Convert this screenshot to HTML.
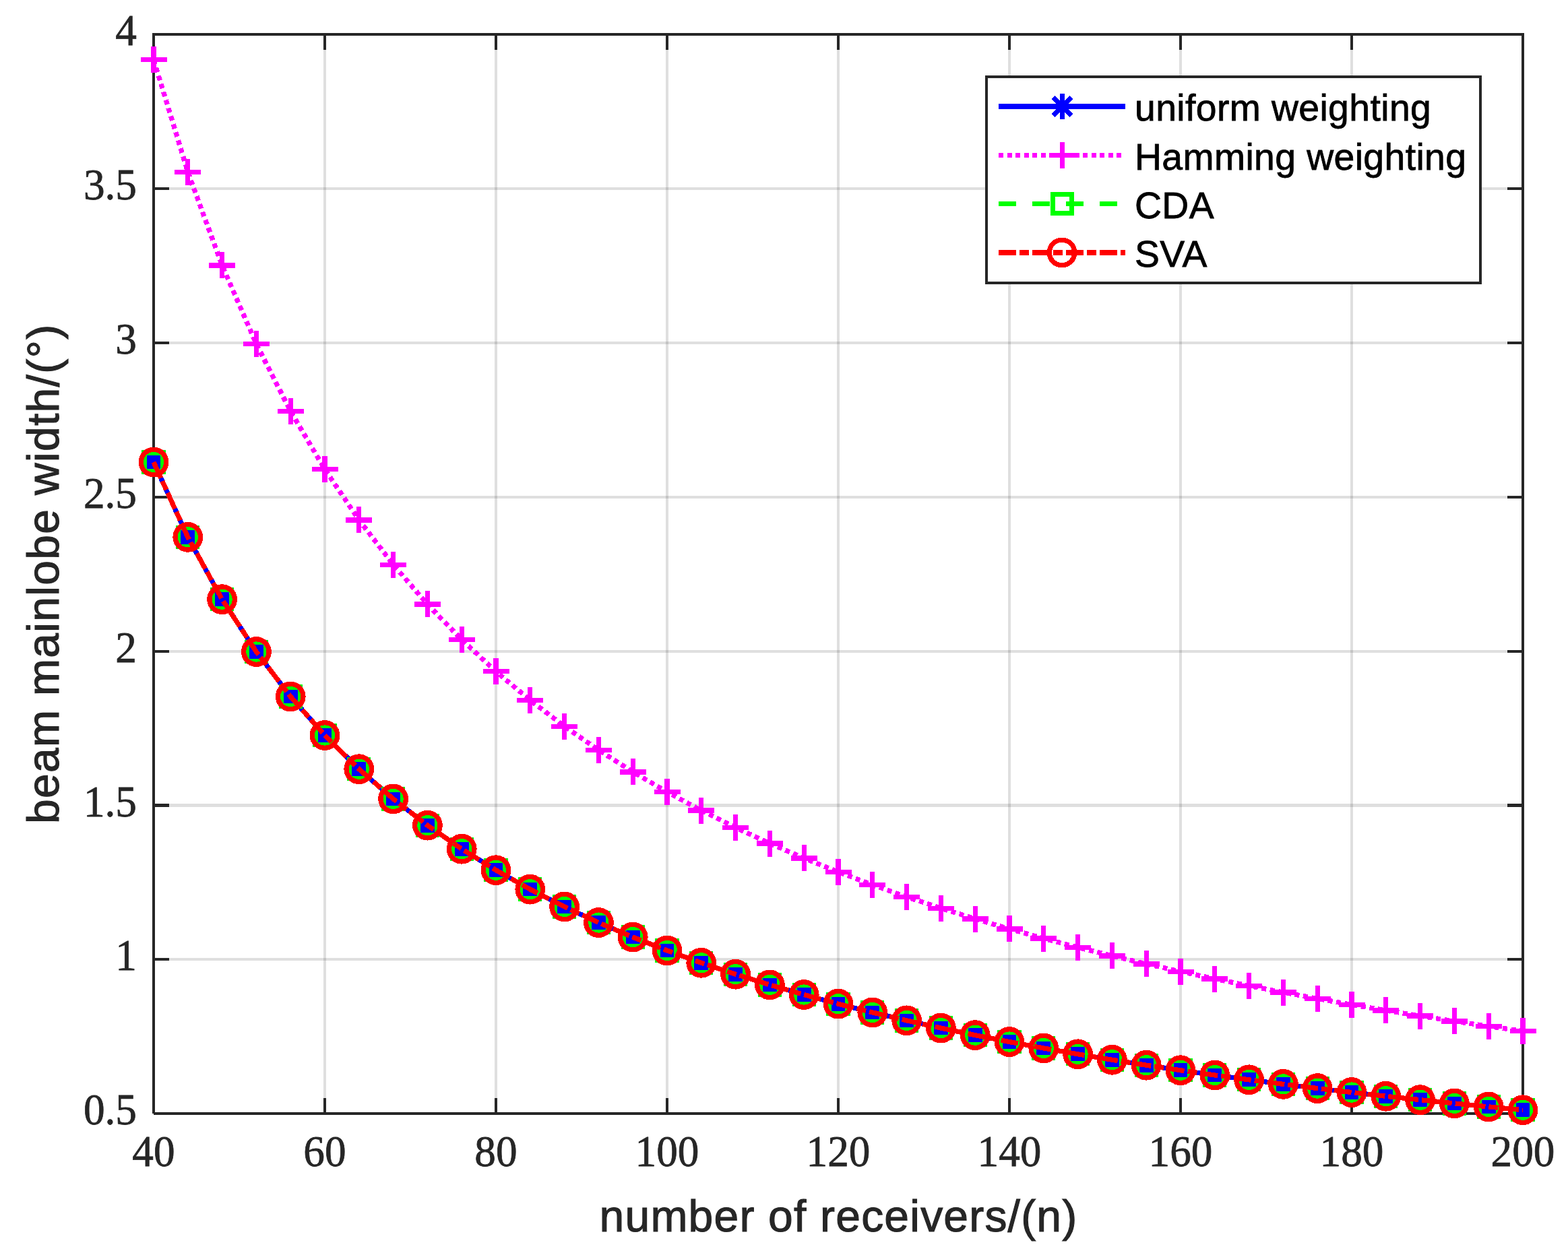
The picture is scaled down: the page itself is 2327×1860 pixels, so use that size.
<!DOCTYPE html>
<html lang="en"><head><meta charset="utf-8"><title>beam mainlobe width vs number of receivers</title>
<style>
html,body{margin:0;padding:0;background:#fff;}
body{width:2327px;height:1860px;overflow:hidden;}
svg{display:block;}
.tk{font-family:"Liberation Serif","DejaVu Serif",serif;font-size:66.4px;fill:#262626;stroke:#262626;stroke-width:0.8px;}
.lb{font-family:"Liberation Sans","DejaVu Sans",sans-serif;font-size:66px;fill:#262626;stroke:#262626;stroke-width:1.1px;letter-spacing:1.2px;}
.lg{font-family:"Liberation Sans","DejaVu Sans",sans-serif;font-size:55.3px;fill:#000;stroke:#000;stroke-width:0.8px;letter-spacing:0.4px;}
.cr{shape-rendering:crispEdges;}
</style></head><body>
<svg width="2327" height="1860" viewBox="0 0 2327 1860">
<rect x="0" y="0" width="2327" height="1860" fill="#ffffff"/>
<g class="cr" stroke="#262626" stroke-opacity="0.15" stroke-width="4.17" fill="none">
<line x1="228" y1="51.1" x2="228" y2="1653.26"/>
<line x1="482" y1="51.1" x2="482" y2="1653.26"/>
<line x1="736" y1="51.1" x2="736" y2="1653.26"/>
<line x1="990" y1="51.1" x2="990" y2="1653.26"/>
<line x1="1244" y1="51.1" x2="1244" y2="1653.26"/>
<line x1="1498" y1="51.1" x2="1498" y2="1653.26"/>
<line x1="1752" y1="51.1" x2="1752" y2="1653.26"/>
<line x1="2006" y1="51.1" x2="2006" y2="1653.26"/>
<line x1="2260" y1="51.1" x2="2260" y2="1653.26"/>
<line x1="228" y1="1653.26" x2="2260" y2="1653.26"/>
<line x1="228" y1="1424.38" x2="2260" y2="1424.38"/>
<line x1="228" y1="1195.5" x2="2260" y2="1195.5"/>
<line x1="228" y1="966.62" x2="2260" y2="966.62"/>
<line x1="228" y1="737.74" x2="2260" y2="737.74"/>
<line x1="228" y1="508.86" x2="2260" y2="508.86"/>
<line x1="228" y1="279.98" x2="2260" y2="279.98"/>
<line x1="228" y1="51.1" x2="2260" y2="51.1"/>
</g>
<g class="cr" stroke="#262626" stroke-width="4.17" fill="none" stroke-linecap="butt" stroke-linejoin="miter">
<path d="M228 1653.26V51.1H2260V1653.26H228"/>
<line x1="482" y1="1653.26" x2="482" y2="1630.26"/>
<line x1="482" y1="51.1" x2="482" y2="74.1"/>
<line x1="736" y1="1653.26" x2="736" y2="1630.26"/>
<line x1="736" y1="51.1" x2="736" y2="74.1"/>
<line x1="990" y1="1653.26" x2="990" y2="1630.26"/>
<line x1="990" y1="51.1" x2="990" y2="74.1"/>
<line x1="1244" y1="1653.26" x2="1244" y2="1630.26"/>
<line x1="1244" y1="51.1" x2="1244" y2="74.1"/>
<line x1="1498" y1="1653.26" x2="1498" y2="1630.26"/>
<line x1="1498" y1="51.1" x2="1498" y2="74.1"/>
<line x1="1752" y1="1653.26" x2="1752" y2="1630.26"/>
<line x1="1752" y1="51.1" x2="1752" y2="74.1"/>
<line x1="2006" y1="1653.26" x2="2006" y2="1630.26"/>
<line x1="2006" y1="51.1" x2="2006" y2="74.1"/>
<line x1="228" y1="1424.38" x2="251" y2="1424.38"/>
<line x1="2260" y1="1424.38" x2="2237" y2="1424.38"/>
<line x1="228" y1="1195.5" x2="251" y2="1195.5"/>
<line x1="2260" y1="1195.5" x2="2237" y2="1195.5"/>
<line x1="228" y1="966.62" x2="251" y2="966.62"/>
<line x1="2260" y1="966.62" x2="2237" y2="966.62"/>
<line x1="228" y1="737.74" x2="251" y2="737.74"/>
<line x1="2260" y1="737.74" x2="2237" y2="737.74"/>
<line x1="228" y1="508.86" x2="251" y2="508.86"/>
<line x1="2260" y1="508.86" x2="2237" y2="508.86"/>
<line x1="228" y1="279.98" x2="251" y2="279.98"/>
<line x1="2260" y1="279.98" x2="2237" y2="279.98"/>
</g>
<g class="tk" text-anchor="middle">
<text transform="translate(228 1731.3) scale(0.953 1)">40</text>
<text transform="translate(482 1731.3) scale(0.953 1)">60</text>
<text transform="translate(736 1731.3) scale(0.953 1)">80</text>
<text transform="translate(990 1731.3) scale(0.953 1)">100</text>
<text transform="translate(1244 1731.3) scale(0.953 1)">120</text>
<text transform="translate(1498 1731.3) scale(0.953 1)">140</text>
<text transform="translate(1752 1731.3) scale(0.953 1)">160</text>
<text transform="translate(2006 1731.3) scale(0.953 1)">180</text>
<text transform="translate(2260 1731.3) scale(0.953 1)">200</text>
</g>
<g class="tk" text-anchor="end">
<text transform="translate(203 1669.26) scale(0.953 1)">0.5</text>
<text transform="translate(203 1440.38) scale(0.953 1)">1</text>
<text transform="translate(203 1211.5) scale(0.953 1)">1.5</text>
<text transform="translate(203 982.62) scale(0.953 1)">2</text>
<text transform="translate(203 753.74) scale(0.953 1)">2.5</text>
<text transform="translate(203 524.86) scale(0.953 1)">3</text>
<text transform="translate(203 295.98) scale(0.953 1)">3.5</text>
<text transform="translate(203 67.1) scale(0.953 1)">4</text>
</g>
<text class="lb" text-anchor="middle" x="1244.5" y="1827.7">number of receivers/(n)</text>
<text class="lb" style="letter-spacing:1.31px" text-anchor="middle" transform="translate(87 851.7) rotate(-90)">beam mainlobe width/(°)</text>
<g class="cr" fill="none" stroke-width="7.3" stroke-linejoin="round">
<g stroke="#0000ff">
<polyline points="228,686.1 278.8,797.36 329.6,889.68 380.4,967.52 431.2,1034.04 482,1091.53 532.8,1141.73 583.6,1185.93 634.4,1225.16 685.2,1260.2 736,1291.69 786.8,1320.14 837.6,1345.98 888.4,1369.55 939.2,1391.13 990,1410.97 1040.8,1429.27 1091.6,1446.2 1142.4,1461.91 1193.2,1476.52 1244,1490.16 1294.8,1502.91 1345.6,1514.85 1396.4,1526.07 1447.2,1536.62 1498,1546.56 1548.8,1555.95 1599.6,1564.82 1650.4,1573.23 1701.2,1581.2 1752,1588.77 1802.8,1595.97 1853.6,1602.82 1904.4,1609.36 1955.2,1615.59 2006,1621.55 2056.8,1627.25 2107.6,1632.7 2158.4,1637.92 2209.2,1642.93 2260,1647.74"/>
<path d="M208.8 686.1H247.2M228 666.9V705.3M214.42 672.52L241.58 699.67M214.42 699.67L241.58 672.52M259.6 797.36H298M278.8 778.16V816.56M265.22 783.78L292.38 810.93M265.22 810.93L292.38 783.78M310.4 889.68H348.8M329.6 870.48V908.88M316.02 876.1L343.18 903.25M316.02 903.25L343.18 876.1M361.2 967.52H399.6M380.4 948.32V986.72M366.82 953.94L393.98 981.09M366.82 981.09L393.98 953.94M412 1034.04H450.4M431.2 1014.84V1053.24M417.62 1020.46L444.78 1047.61M417.62 1047.61L444.78 1020.46M462.8 1091.53H501.2M482 1072.33V1110.73M468.42 1077.96L495.58 1105.11M468.42 1105.11L495.58 1077.96M513.6 1141.73H552M532.8 1122.53V1160.93M519.22 1128.15L546.38 1155.31M519.22 1155.31L546.38 1128.15M564.4 1185.93H602.8M583.6 1166.73V1205.13M570.02 1172.36L597.18 1199.51M570.02 1199.51L597.18 1172.36M615.2 1225.16H653.6M634.4 1205.96V1244.36M620.82 1211.58L647.98 1238.73M620.82 1238.73L647.98 1211.58M666 1260.2H704.4M685.2 1241V1279.4M671.62 1246.62L698.78 1273.77M671.62 1273.77L698.78 1246.62M716.8 1291.69H755.2M736 1272.49V1310.89M722.42 1278.11L749.58 1305.26M722.42 1305.26L749.58 1278.11M767.6 1320.14H806M786.8 1300.94V1339.34M773.22 1306.57L800.38 1333.72M773.22 1333.72L800.38 1306.57M818.4 1345.98H856.8M837.6 1326.78V1365.18M824.02 1332.41L851.18 1359.56M824.02 1359.56L851.18 1332.41M869.2 1369.55H907.6M888.4 1350.35V1388.75M874.82 1355.97L901.98 1383.13M874.82 1383.13L901.98 1355.97M920 1391.13H958.4M939.2 1371.93V1410.33M925.62 1377.56L952.78 1404.71M925.62 1404.71L952.78 1377.56M970.8 1410.97H1009.2M990 1391.77V1430.17M976.42 1397.39L1003.58 1424.55M976.42 1424.55L1003.58 1397.39M1021.6 1429.27H1060M1040.8 1410.07V1448.47M1027.22 1415.69L1054.38 1442.85M1027.22 1442.85L1054.38 1415.69M1072.4 1446.2H1110.8M1091.6 1427V1465.4M1078.02 1432.62L1105.18 1459.77M1078.02 1459.77L1105.18 1432.62M1123.2 1461.91H1161.6M1142.4 1442.71V1481.11M1128.82 1448.33L1155.98 1475.48M1128.82 1475.48L1155.98 1448.33M1174 1476.52H1212.4M1193.2 1457.32V1495.72M1179.62 1462.95L1206.78 1490.1M1179.62 1490.1L1206.78 1462.95M1224.8 1490.16H1263.2M1244 1470.96V1509.36M1230.42 1476.58L1257.58 1503.74M1230.42 1503.74L1257.58 1476.58M1275.6 1502.91H1314M1294.8 1483.71V1522.11M1281.22 1489.33L1308.38 1516.48M1281.22 1516.48L1308.38 1489.33M1326.4 1514.85H1364.8M1345.6 1495.65V1534.05M1332.02 1501.27L1359.18 1528.43M1332.02 1528.43L1359.18 1501.27M1377.2 1526.07H1415.6M1396.4 1506.87V1545.27M1382.82 1512.49L1409.98 1539.64M1382.82 1539.64L1409.98 1512.49M1428 1536.62H1466.4M1447.2 1517.42V1555.82M1433.62 1523.04L1460.78 1550.19M1433.62 1550.19L1460.78 1523.04M1478.8 1546.56H1517.2M1498 1527.36V1565.76M1484.42 1532.98L1511.58 1560.14M1484.42 1560.14L1511.58 1532.98M1529.6 1555.95H1568M1548.8 1536.75V1575.15M1535.22 1542.37L1562.38 1569.52M1535.22 1569.52L1562.38 1542.37M1580.4 1564.82H1618.8M1599.6 1545.62V1584.02M1586.02 1551.25L1613.18 1578.4M1586.02 1578.4L1613.18 1551.25M1631.2 1573.23H1669.6M1650.4 1554.03V1592.43M1636.82 1559.65L1663.98 1586.8M1636.82 1586.8L1663.98 1559.65M1682 1581.2H1720.4M1701.2 1562V1600.4M1687.62 1567.62L1714.78 1594.78M1687.62 1594.78L1714.78 1567.62M1732.8 1588.77H1771.2M1752 1569.57V1607.97M1738.42 1575.19L1765.58 1602.35M1738.42 1602.35L1765.58 1575.19M1783.6 1595.97H1822M1802.8 1576.77V1615.17M1789.22 1582.39L1816.38 1609.55M1789.22 1609.55L1816.38 1582.39M1834.4 1602.82H1872.8M1853.6 1583.62V1622.02M1840.02 1589.25L1867.18 1616.4M1840.02 1616.4L1867.18 1589.25M1885.2 1609.36H1923.6M1904.4 1590.16V1628.56M1890.82 1595.78L1917.98 1622.93M1890.82 1622.93L1917.98 1595.78M1936 1615.59H1974.4M1955.2 1596.39V1634.79M1941.62 1602.02L1968.78 1629.17M1941.62 1629.17L1968.78 1602.02M1986.8 1621.55H2025.2M2006 1602.35V1640.75M1992.42 1607.97L2019.58 1635.13M1992.42 1635.13L2019.58 1607.97M2037.6 1627.25H2076M2056.8 1608.05V1646.45M2043.22 1613.67L2070.38 1640.82M2043.22 1640.82L2070.38 1613.67M2088.4 1632.7H2126.8M2107.6 1613.5V1651.9M2094.02 1619.12L2121.18 1646.27M2094.02 1646.27L2121.18 1619.12M2139.2 1637.92H2177.6M2158.4 1618.72V1657.12M2144.82 1624.34L2171.98 1651.5M2144.82 1651.5L2171.98 1624.34M2190 1642.93H2228.4M2209.2 1623.73V1662.13M2195.62 1629.35L2222.78 1656.51M2195.62 1656.51L2222.78 1629.35M2240.8 1647.74H2279.2M2260 1628.54V1666.94M2246.42 1634.16L2273.58 1661.32M2246.42 1661.32L2273.58 1634.16"/>
<path fill="#0000ff" stroke="none" d="M217.5 675.6h21v21h-21zM268.3 786.86h21v21h-21zM319.1 879.18h21v21h-21zM369.9 957.02h21v21h-21zM420.7 1023.54h21v21h-21zM471.5 1081.03h21v21h-21zM522.3 1131.23h21v21h-21zM573.1 1175.43h21v21h-21zM623.9 1214.66h21v21h-21zM674.7 1249.7h21v21h-21zM725.5 1281.19h21v21h-21zM776.3 1309.64h21v21h-21zM827.1 1335.48h21v21h-21zM877.9 1359.05h21v21h-21zM928.7 1380.63h21v21h-21zM979.5 1400.47h21v21h-21zM1030.3 1418.77h21v21h-21zM1081.1 1435.7h21v21h-21zM1131.9 1451.41h21v21h-21zM1182.7 1466.02h21v21h-21zM1233.5 1479.66h21v21h-21zM1284.3 1492.41h21v21h-21zM1335.1 1504.35h21v21h-21zM1385.9 1515.57h21v21h-21zM1436.7 1526.12h21v21h-21zM1487.5 1536.06h21v21h-21zM1538.3 1545.45h21v21h-21zM1589.1 1554.32h21v21h-21zM1639.9 1562.73h21v21h-21zM1690.7 1570.7h21v21h-21zM1741.5 1578.27h21v21h-21zM1792.3 1585.47h21v21h-21zM1843.1 1592.32h21v21h-21zM1893.9 1598.86h21v21h-21zM1944.7 1605.09h21v21h-21zM1995.5 1611.05h21v21h-21zM2046.3 1616.75h21v21h-21zM2097.1 1622.2h21v21h-21zM2147.9 1627.42h21v21h-21zM2198.7 1632.43h21v21h-21zM2249.5 1637.24h21v21h-21z"/>
</g>
<g stroke="#ff00ff">
<polyline stroke-dasharray="7 5.5" points="228,88.66 278.8,255.5 329.6,393.93 380.4,510.66 431.2,610.4 482,696.62 532.8,771.89 583.6,838.17 634.4,896.99 685.2,949.53 736,996.75 786.8,1039.42 837.6,1078.17 888.4,1113.51 939.2,1145.87 990,1175.62 1040.8,1203.06 1091.6,1228.44 1142.4,1252 1193.2,1273.92 1244,1294.36 1294.8,1313.48 1345.6,1331.39 1396.4,1348.2 1447.2,1364.02 1498,1378.93 1548.8,1393.01 1599.6,1406.32 1650.4,1418.92 1701.2,1430.88 1752,1442.23 1802.8,1453.03 1853.6,1463.3 1904.4,1473.1 1955.2,1482.45 2006,1491.38 2056.8,1499.92 2107.6,1508.1 2158.4,1515.93 2209.2,1523.44 2260,1530.65"/>
<path d="M208.5 88.66H247.5M228 69.16V108.16M259.3 255.5H298.3M278.8 236V275M310.1 393.93H349.1M329.6 374.43V413.43M360.9 510.66H399.9M380.4 491.16V530.16M411.7 610.4H450.7M431.2 590.9V629.9M462.5 696.62H501.5M482 677.12V716.12M513.3 771.89H552.3M532.8 752.39V791.39M564.1 838.17H603.1M583.6 818.67V857.67M614.9 896.99H653.9M634.4 877.49V916.49M665.7 949.53H704.7M685.2 930.03V969.03M716.5 996.75H755.5M736 977.25V1016.25M767.3 1039.42H806.3M786.8 1019.92V1058.92M818.1 1078.17H857.1M837.6 1058.67V1097.67M868.9 1113.51H907.9M888.4 1094.01V1133.01M919.7 1145.87H958.7M939.2 1126.37V1165.37M970.5 1175.62H1009.5M990 1156.12V1195.12M1021.3 1203.06H1060.3M1040.8 1183.56V1222.56M1072.1 1228.44H1111.1M1091.6 1208.94V1247.94M1122.9 1252H1161.9M1142.4 1232.5V1271.5M1173.7 1273.92H1212.7M1193.2 1254.42V1293.42M1224.5 1294.36H1263.5M1244 1274.86V1313.86M1275.3 1313.48H1314.3M1294.8 1293.98V1332.98M1326.1 1331.39H1365.1M1345.6 1311.89V1350.89M1376.9 1348.2H1415.9M1396.4 1328.7V1367.7M1427.7 1364.02H1466.7M1447.2 1344.52V1383.52M1478.5 1378.93H1517.5M1498 1359.43V1398.43M1529.3 1393.01H1568.3M1548.8 1373.51V1412.51M1580.1 1406.32H1619.1M1599.6 1386.82V1425.82M1630.9 1418.92H1669.9M1650.4 1399.42V1438.42M1681.7 1430.88H1720.7M1701.2 1411.38V1450.38M1732.5 1442.23H1771.5M1752 1422.73V1461.73M1783.3 1453.03H1822.3M1802.8 1433.53V1472.53M1834.1 1463.3H1873.1M1853.6 1443.8V1482.8M1884.9 1473.1H1923.9M1904.4 1453.6V1492.6M1935.7 1482.45H1974.7M1955.2 1462.95V1501.95M1986.5 1491.38H2025.5M2006 1471.88V1510.88M2037.3 1499.92H2076.3M2056.8 1480.42V1519.42M2088.1 1508.1H2127.1M2107.6 1488.6V1527.6M2138.9 1515.93H2177.9M2158.4 1496.43V1535.43M2189.7 1523.44H2228.7M2209.2 1503.94V1542.94M2240.5 1530.65H2279.5M2260 1511.15V1550.15"/>
</g>
<g stroke="#00ff00">
<polyline stroke-dasharray="26 24" points="228,686.1 278.8,797.36 329.6,889.68 380.4,967.52 431.2,1034.04 482,1091.53 532.8,1141.73 583.6,1185.93 634.4,1225.16 685.2,1260.2 736,1291.69 786.8,1320.14 837.6,1345.98 888.4,1369.55 939.2,1391.13 990,1410.97 1040.8,1429.27 1091.6,1446.2 1142.4,1461.91 1193.2,1476.52 1244,1490.16 1294.8,1502.91 1345.6,1514.85 1396.4,1526.07 1447.2,1536.62 1498,1546.56 1548.8,1555.95 1599.6,1564.82 1650.4,1573.23 1701.2,1581.2 1752,1588.77 1802.8,1595.97 1853.6,1602.82 1904.4,1609.36 1955.2,1615.59 2006,1621.55 2056.8,1627.25 2107.6,1632.7 2158.4,1637.92 2209.2,1642.93 2260,1647.74"/>
<path stroke-linejoin="miter" d="M214 672.1h28v28h-28zM264.8 783.36h28v28h-28zM315.6 875.68h28v28h-28zM366.4 953.52h28v28h-28zM417.2 1020.04h28v28h-28zM468 1077.53h28v28h-28zM518.8 1127.73h28v28h-28zM569.6 1171.93h28v28h-28zM620.4 1211.16h28v28h-28zM671.2 1246.2h28v28h-28zM722 1277.69h28v28h-28zM772.8 1306.14h28v28h-28zM823.6 1331.98h28v28h-28zM874.4 1355.55h28v28h-28zM925.2 1377.13h28v28h-28zM976 1396.97h28v28h-28zM1026.8 1415.27h28v28h-28zM1077.6 1432.2h28v28h-28zM1128.4 1447.91h28v28h-28zM1179.2 1462.52h28v28h-28zM1230 1476.16h28v28h-28zM1280.8 1488.91h28v28h-28zM1331.6 1500.85h28v28h-28zM1382.4 1512.07h28v28h-28zM1433.2 1522.62h28v28h-28zM1484 1532.56h28v28h-28zM1534.8 1541.95h28v28h-28zM1585.6 1550.82h28v28h-28zM1636.4 1559.23h28v28h-28zM1687.2 1567.2h28v28h-28zM1738 1574.77h28v28h-28zM1788.8 1581.97h28v28h-28zM1839.6 1588.82h28v28h-28zM1890.4 1595.36h28v28h-28zM1941.2 1601.59h28v28h-28zM1992 1607.55h28v28h-28zM2042.8 1613.25h28v28h-28zM2093.6 1618.7h28v28h-28zM2144.4 1623.92h28v28h-28zM2195.2 1628.93h28v28h-28zM2246 1633.74h28v28h-28z"/>
</g>
<g stroke="#ff0000">
<polyline stroke-dasharray="26 5 14 5" points="228,686.1 278.8,797.36 329.6,889.68 380.4,967.52 431.2,1034.04 482,1091.53 532.8,1141.73 583.6,1185.93 634.4,1225.16 685.2,1260.2 736,1291.69 786.8,1320.14 837.6,1345.98 888.4,1369.55 939.2,1391.13 990,1410.97 1040.8,1429.27 1091.6,1446.2 1142.4,1461.91 1193.2,1476.52 1244,1490.16 1294.8,1502.91 1345.6,1514.85 1396.4,1526.07 1447.2,1536.62 1498,1546.56 1548.8,1555.95 1599.6,1564.82 1650.4,1573.23 1701.2,1581.2 1752,1588.77 1802.8,1595.97 1853.6,1602.82 1904.4,1609.36 1955.2,1615.59 2006,1621.55 2056.8,1627.25 2107.6,1632.7 2158.4,1637.92 2209.2,1642.93 2260,1647.74"/>
<circle cx="228" cy="686.1" r="18.75"/>
<circle cx="278.8" cy="797.36" r="18.75"/>
<circle cx="329.6" cy="889.68" r="18.75"/>
<circle cx="380.4" cy="967.52" r="18.75"/>
<circle cx="431.2" cy="1034.04" r="18.75"/>
<circle cx="482" cy="1091.53" r="18.75"/>
<circle cx="532.8" cy="1141.73" r="18.75"/>
<circle cx="583.6" cy="1185.93" r="18.75"/>
<circle cx="634.4" cy="1225.16" r="18.75"/>
<circle cx="685.2" cy="1260.2" r="18.75"/>
<circle cx="736" cy="1291.69" r="18.75"/>
<circle cx="786.8" cy="1320.14" r="18.75"/>
<circle cx="837.6" cy="1345.98" r="18.75"/>
<circle cx="888.4" cy="1369.55" r="18.75"/>
<circle cx="939.2" cy="1391.13" r="18.75"/>
<circle cx="990" cy="1410.97" r="18.75"/>
<circle cx="1040.8" cy="1429.27" r="18.75"/>
<circle cx="1091.6" cy="1446.2" r="18.75"/>
<circle cx="1142.4" cy="1461.91" r="18.75"/>
<circle cx="1193.2" cy="1476.52" r="18.75"/>
<circle cx="1244" cy="1490.16" r="18.75"/>
<circle cx="1294.8" cy="1502.91" r="18.75"/>
<circle cx="1345.6" cy="1514.85" r="18.75"/>
<circle cx="1396.4" cy="1526.07" r="18.75"/>
<circle cx="1447.2" cy="1536.62" r="18.75"/>
<circle cx="1498" cy="1546.56" r="18.75"/>
<circle cx="1548.8" cy="1555.95" r="18.75"/>
<circle cx="1599.6" cy="1564.82" r="18.75"/>
<circle cx="1650.4" cy="1573.23" r="18.75"/>
<circle cx="1701.2" cy="1581.2" r="18.75"/>
<circle cx="1752" cy="1588.77" r="18.75"/>
<circle cx="1802.8" cy="1595.97" r="18.75"/>
<circle cx="1853.6" cy="1602.82" r="18.75"/>
<circle cx="1904.4" cy="1609.36" r="18.75"/>
<circle cx="1955.2" cy="1615.59" r="18.75"/>
<circle cx="2006" cy="1621.55" r="18.75"/>
<circle cx="2056.8" cy="1627.25" r="18.75"/>
<circle cx="2107.6" cy="1632.7" r="18.75"/>
<circle cx="2158.4" cy="1637.92" r="18.75"/>
<circle cx="2209.2" cy="1642.93" r="18.75"/>
<circle cx="2260" cy="1647.74" r="18.75"/>
</g>
</g>
<rect class="cr" x="1464" y="114" width="733" height="306" fill="#ffffff" stroke="#262626" stroke-width="4.17"/>
<g class="cr" fill="none" stroke-width="7.3">
<g stroke="#0000ff"><line x1="1482" y1="158" x2="1670.2" y2="158"/><path d="M1557.3 158H1595.7M1576.5 138.8V177.2M1562.92 144.42L1590.08 171.58M1562.92 171.58L1590.08 144.42"/></g>
<g stroke="#ff00ff"><line stroke-dasharray="7 5.5" x1="1482" y1="230.7" x2="1670.2" y2="230.7"/><path d="M1557 230.7H1596M1576.5 211.2V250.2"/></g>
<g stroke="#00ff00"><line stroke-dasharray="26 24" x1="1482" y1="302.5" x2="1670.2" y2="302.5"/><path d="M1562.5 288.5h28v28h-28z"/></g>
<g stroke="#ff0000"><line stroke-dasharray="26 5 14 5" x1="1482" y1="374.9" x2="1670.2" y2="374.9"/><circle cx="1576" cy="374.9" r="18.75"/></g>
</g>
<g class="lg">
<text x="1684" y="179.2">uniform weighting</text>
<text x="1684" y="251.9">Hamming weighting</text>
<text x="1684" y="323.7">CDA</text>
<text x="1684" y="396.1">SVA</text>
</g>
</svg>
</body></html>
